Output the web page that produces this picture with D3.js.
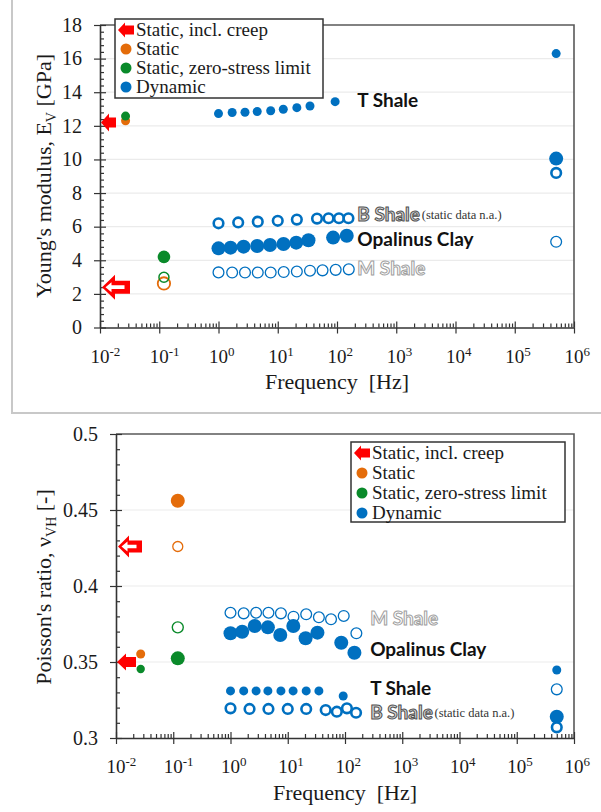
<!DOCTYPE html>
<html>
<head>
<meta charset="utf-8">
<script src="https://cdn.jsdelivr.net/npm/d3@7"></script>
<style>
  body { margin: 0; background: #fff; }
  svg text { font-family: "Liberation Serif", "Times New Roman", serif !important; fill: #1a1a1a; }
  svg text.tag { font-family: Lato, "Open Sans", sans-serif !important; font-weight: 700; }
</style>
</head>
<body>
<svg width="601" height="812"></svg>
<script>
// ---- data ----
const decades = [1e-2, 1e-1, 1e0, 1e1, 1e2, 1e3, 1e4, 1e5, 1e6]
const decadeExp = ['-2', '-1', '0', '1', '2', '3', '4', '5', '6']

const tFreq = [1, 1.7, 2.8, 4.5, 7.6, 12.4, 21, 35, 93]
const bFreq = [1, 2.15, 4.6, 10, 21, 46, 72, 108, 156]
const opaFreq = [1, 1.6, 2.65, 4.5, 7.4, 12.5, 20.5, 33, 86, 146]
const mFreq = [1, 1.7, 2.8, 4.6, 7.6, 12.6, 21, 35, 57, 95, 158]
const ultraFreq = 5e5

// Young's modulus [GPa]
const tShaleE = [12.73, 12.79, 12.81, 12.85, 12.9, 12.99, 13.08, 13.18, 13.44]
const bShaleE = [6.2, 6.25, 6.3, 6.35, 6.42, 6.48, 6.5, 6.5, 6.5]
const opalinusE = [4.71, 4.75, 4.81, 4.85, 4.91, 4.97, 5.05, 5.19, 5.35, 5.46]
const mShaleE = [3.28, 3.27, 3.27, 3.27, 3.27, 3.3, 3.33, 3.38, 3.4, 3.43, 3.46]
const ultraE = [16.3, 10.05, 9.2, 5.1]            // T, Opalinus, B, M

const staticFreq = [0.027, 0.027, 0.12, 0.12, 0.12]
const staticE = [12.3, 12.58, 2.62, 2.99, 4.2]
const creepE = [12.2, 2.4]                         // filled, hollow

// Poisson's ratio [-]
const tShaleNu = [0.331, 0.331, 0.331, 0.331, 0.331, 0.331, 0.331, 0.331, 0.3276]
const bShaleNu = [0.3195, 0.3191, 0.3191, 0.3191, 0.3191, 0.3184, 0.3173, 0.3195, 0.3166]
const opalinusNu = [0.3689, 0.3699, 0.3737, 0.3728, 0.3678, 0.3737, 0.3656, 0.3693, 0.3627, 0.3561]
const mShaleNu = [0.3824, 0.382, 0.3824, 0.3824, 0.382, 0.3798, 0.3814, 0.3794, 0.3781, 0.3803, 0.3689]
const ultraNu = [0.3447, 0.314, 0.307, 0.332]      // T, Opalinus, B, M

const staticFreqNu = [0.027, 0.027, 0.12, 0.12, 0.12, 0.12]
const staticNu = [0.3553, 0.3454, 0.4561, 0.426, 0.3728, 0.3524]
const creepNu = [0.35, 0.426]

const legendLabels = ['Static, incl. creep', 'Static', 'Static, zero-stress limit', 'Dynamic']

// ---- styles ----
const blue = '#0070c0', orange = '#e46c0a', green = '#0a8a2a', red = '#ff0000'
const serif = '"Liberation Serif", "Times New Roman", serif'
const tStyle = { r: 4.5, fill: blue }
const opaStyle = { r: 7, fill: blue }
const bStyle = { r: 4.8, fill: '#fff', stroke: blue, sw: 2.6 }
const mStyle = { r: 5.4, fill: '#fff', stroke: blue, sw: 1.3 }
const staticStylesE = [
  { r: 4.5, fill: orange }, { r: 4.5, fill: green },
  { r: 6.2, fill: '#fff', stroke: orange, sw: 1.8 }, { r: 5, fill: 'none', stroke: green, sw: 1.5 },
  { r: 6.3, fill: green }
]
const staticStylesNu = [
  { r: 4.5, fill: orange }, { r: 4.2, fill: green },
  { r: 7, fill: orange }, { r: 5, fill: '#fff', stroke: orange, sw: 1.3 },
  { r: 5.5, fill: '#fff', stroke: green, sw: 1.4 }, { r: 7, fill: green }
]

const svg = d3.select('svg')

// grey frame round the upper figure
svg.append('path').attr('d', 'M12,0V413H601')
  .attr('fill', 'none').attr('stroke', '#c8c8c8').attr('stroke-width', 2)

const minorX = d3.range(-2, 6).flatMap(e => d3.range(2, 10).map(k => k * Math.pow(10, e)))

function styleAxis(g, keepDomain) {
  g.selectAll('line').attr('stroke', '#333').attr('stroke-width', 1.2)
  if (keepDomain) g.select('.domain').attr('stroke', '#333').attr('stroke-width', 1.6)
  else g.select('.domain').remove()
}

function drawAxes(x, y, yMajor, yMinor, yFmt) {
  const [x0, x1] = x.range()
  const [y0, y1] = y.range()

  svg.append('g').selectAll('line').data(yMajor.slice(1, -1)).join('line')
    .attr('x1', x0).attr('x2', x1).attr('y1', d => y(d)).attr('y2', d => y(d))
    .attr('stroke', '#ebebeb').attr('stroke-width', 1.2)

  svg.append('path').attr('d', `M${x0},${y1}H${x1}V${y0}`)
    .attr('fill', 'none').attr('stroke', '#595959').attr('stroke-width', 1.6)

  // x axis: decades cross the line, minors point inward
  const gx = svg.append('g').attr('transform', `translate(0,${y0})`)
  gx.append('g').call(d3.axisBottom(x).tickValues(minorX).tickSize(-4).tickFormat('')).call(styleAxis, false)
  gx.append('g').call(d3.axisBottom(x).tickValues(decades).tickSize(-6).tickFormat('')).call(styleAxis, false)
  gx.append('g').call(d3.axisBottom(x).tickValues(decades).tickSizeInner(6).tickSizeOuter(0).tickFormat(''))
    .call(styleAxis, true)

  const lab = gx.append('g').selectAll('text').data(decades).join('text')
    .attr('x', d => x(d) - 9.5).attr('y', 35)
    .attr('font-family', serif).style('font-size', '19px')
  lab.append('tspan').text('10')
  lab.append('tspan').attr('dy', -7).style('font-size', '13px').text((d, i) => decadeExp[i])

  // y axis
  const gy = svg.append('g').attr('transform', `translate(${x0},0)`)
  gy.append('g').call(d3.axisLeft(y).tickValues(yMinor).tickSize(-4).tickFormat('')).call(styleAxis, false)
  gy.append('g').call(d3.axisLeft(y).tickValues(yMajor).tickSize(-6).tickFormat('')).call(styleAxis, false)
  gy.append('g').call(d3.axisLeft(y).tickValues(yMajor).tickSizeInner(6).tickSizeOuter(0).tickFormat(''))
    .call(styleAxis, true)
  gy.append('g').selectAll('text').data(yMajor).join('text')
    .attr('x', -18).attr('y', d => y(d)).attr('dy', '0.34em')
    .attr('text-anchor', 'end').attr('font-family', serif).style('font-size', '20px').text(yFmt)
}

function dots(x, y, fs, vs, st) {
  svg.append('g').selectAll('circle').data(vs).join('circle')
    .attr('cx', (d, i) => x(fs[i])).attr('cy', d => y(d)).attr('r', st.r)
    .attr('fill', st.fill).attr('stroke', st.stroke || 'none').attr('stroke-width', st.sw || 0)
}

function staticDots(x, y, fs, vs, styles) {
  svg.append('g').selectAll('circle').data(vs).join('circle')
    .attr('cx', (d, i) => x(fs[i])).attr('cy', d => y(d)).attr('r', (d, i) => styles[i].r)
    .attr('fill', (d, i) => styles[i].fill)
    .attr('stroke', (d, i) => styles[i].stroke || 'none')
    .attr('stroke-width', (d, i) => styles[i].sw || 0)
}

function arrowPath(hl, hh, len, bh) {
  return `M0,0L${hl},${-hh}V${-bh}H${len}V${bh}H${hl}V${hh}Z`
}

function creepArrows(x, y, vals, filledSize, hollowSize) {
  const ax = x(decades[0])
  svg.append('path').attr('d', arrowPath(...filledSize))
    .attr('transform', `translate(${ax + 1},${y(vals[0])})`).attr('fill', red)
  const g = svg.append('g').attr('transform', `translate(${ax + 2},${y(vals[1])})`)
  g.append('path').attr('d', arrowPath(...hollowSize)).attr('fill', red)
  g.append('path').attr('d', arrowPath(6, 5, hollowSize[2] - 9, 1.8))
    .attr('transform', 'translate(3.5,0)').attr('fill', '#fff')
}

function legend(left, top, w, h, rowH) {
  const g = svg.append('g').attr('transform', `translate(${left},${top})`)
  g.append('rect').attr('width', w).attr('height', h)
    .attr('fill', '#fff').attr('stroke', '#333').attr('stroke-width', 1.5)
  const rows = g.selectAll('g').data(legendLabels).join('g')
    .attr('transform', (d, i) => `translate(0,${11 + i * rowH})`)
  rows.filter((d, i) => i === 0).append('path')
    .attr('d', arrowPath(7, 7.5, 16, 4.5)).attr('transform', 'translate(3,0)').attr('fill', red)
  rows.filter((d, i) => i > 0).append('circle')
    .attr('cx', 11).attr('r', 5.5).attr('fill', (d, i) => [orange, green, blue][i])
  rows.append('text').attr('x', 21).attr('dy', '0.33em')
    .attr('font-family', serif).style('font-size', '19px').text(d => d)
}

function tag(x, y, f, v, label, kind) {
  const t = svg.append('text').attr('class', 'tag').attr('x', x(f)).attr('y', y(v))
    .attr('dy', '0.36em').style('font-size', '19px').text(label)
  if (kind === 'dark') t.style('fill', '#d4d4d4').style('stroke', '#505050').style('stroke-width', 1)
  else if (kind === 'light') t.style('fill', '#fff').style('stroke', '#a0a0a0').style('stroke-width', 1)
  else t.style('fill', '#111')
  return t
}

function note(x, y, f, v) {
  svg.append('text').attr('x', x(f)).attr('y', y(v)).attr('dy', '0.36em')
    .attr('font-family', serif).style('font-size', '12.5px').style('fill', '#333').text('(static data n.a.)')
}

// ================= upper panel: Young's modulus =================
const xE = d3.scaleLog().domain([1e-2, 1e6]).range([100, 574])
const yE = d3.scaleLinear().domain([0, 18]).range([327.5, 25])
const eMajor = d3.range(0, 19, 2)
const eMinor = d3.range(0, 18.01, 0.4).filter(d => Math.abs(d / 2 - Math.round(d / 2)) > 0.01)
drawAxes(xE, yE, eMajor, eMinor, d => d)

creepArrows(xE, yE, creepE, [8, 9, 15, 5], [13, 12.5, 28, 6.5])
staticDots(xE, yE, staticFreq, staticE, staticStylesE)

dots(xE, yE, mFreq, mShaleE, mStyle)
dots(xE, yE, opaFreq, opalinusE, opaStyle)
dots(xE, yE, bFreq, bShaleE, bStyle)
dots(xE, yE, tFreq, tShaleE, tStyle)
dots(xE, yE, [ultraFreq], [ultraE[3]], mStyle)
dots(xE, yE, [ultraFreq], [ultraE[1]], opaStyle)
dots(xE, yE, [ultraFreq], [ultraE[2]], bStyle)
dots(xE, yE, [ultraFreq], [ultraE[0]], tStyle)

tag(xE, yE, 220, 13.54, 'T Shale')
const bTagE = tag(xE, yE, 220, 6.73, 'B Shale', 'dark')
note(xE, yE, 220 * Math.pow(10, bTagE.node().getComputedTextLength() / 59.25 + 0.03), 6.7)
tag(xE, yE, 220, 5.24, 'Opalinus Clay')
tag(xE, yE, 220, 3.51, 'M Shale', 'light')

legend(115, 19, 208, 79, 19)

svg.append('text').attr('transform', 'translate(51,176) rotate(-90)')
  .attr('text-anchor', 'middle').attr('font-family', serif).style('font-size', '22px')
  .call(t => {
    t.append('tspan').text("Young's modulus, E")
    t.append('tspan').attr('dy', 5).style('font-size', '14px').text('V')
    t.append('tspan').attr('dy', -5).text(' [GPa]')
  })
svg.append('text').attr('x', 337).attr('y', 389).attr('text-anchor', 'middle')
  .attr('font-family', serif).style('font-size', '22px').style('white-space', 'pre').text('Frequency  [Hz]')

// ================= lower panel: Poisson's ratio =================
const xN = d3.scaleLog().domain([1e-2, 1e6]).range([116, 574])
const yN = d3.scaleLinear().domain([0.3, 0.5]).range([738, 434])
const nMajor = [0.3, 0.35, 0.4, 0.45, 0.5]
const nMinor = d3.range(0.3, 0.5001, 0.01).filter(d => Math.abs(d * 20 - Math.round(d * 20)) > 0.01)
drawAxes(xN, yN, nMajor, nMinor, d => d3.format('')(+d.toFixed(2)))

creepArrows(xN, yN, creepNu, [9, 8.5, 19, 5], [11, 11, 24, 6])
staticDots(xN, yN, staticFreqNu, staticNu, staticStylesNu)

dots(xN, yN, mFreq, mShaleNu, mStyle)
dots(xN, yN, opaFreq, opalinusNu, opaStyle)
dots(xN, yN, bFreq, bShaleNu, bStyle)
dots(xN, yN, tFreq, tShaleNu, tStyle)
dots(xN, yN, [ultraFreq], [ultraNu[3]], mStyle)
dots(xN, yN, [ultraFreq], [ultraNu[1]], opaStyle)
dots(xN, yN, [ultraFreq], [ultraNu[2]], bStyle)
dots(xN, yN, [ultraFreq], [ultraNu[0]], tStyle)

tag(xN, yN, 275, 0.3789, 'M Shale', 'light')
tag(xN, yN, 275, 0.3586, 'Opalinus Clay')
tag(xN, yN, 275, 0.3329, 'T Shale')
const bTagN = tag(xN, yN, 275, 0.3171, 'B Shale', 'dark')
note(xN, yN, 275 * Math.pow(10, bTagN.node().getComputedTextLength() / 57.25 + 0.03), 0.3168)

legend(351, 442, 214, 80, 20)

svg.append('text').attr('transform', 'translate(51,587) rotate(-90)')
  .attr('text-anchor', 'middle').attr('font-family', serif).style('font-size', '22px')
  .call(t => {
    t.append('tspan').text("Poisson's ratio, \u03bd")
    t.append('tspan').attr('dy', 5).style('font-size', '14px').text('VH')
    t.append('tspan').attr('dy', -5).text(' [-]')
  })
svg.append('text').attr('x', 345).attr('y', 800).attr('text-anchor', 'middle')
  .attr('font-family', serif).style('font-size', '22px').style('white-space', 'pre').text('Frequency  [Hz]')
</script>
</body>
</html>
